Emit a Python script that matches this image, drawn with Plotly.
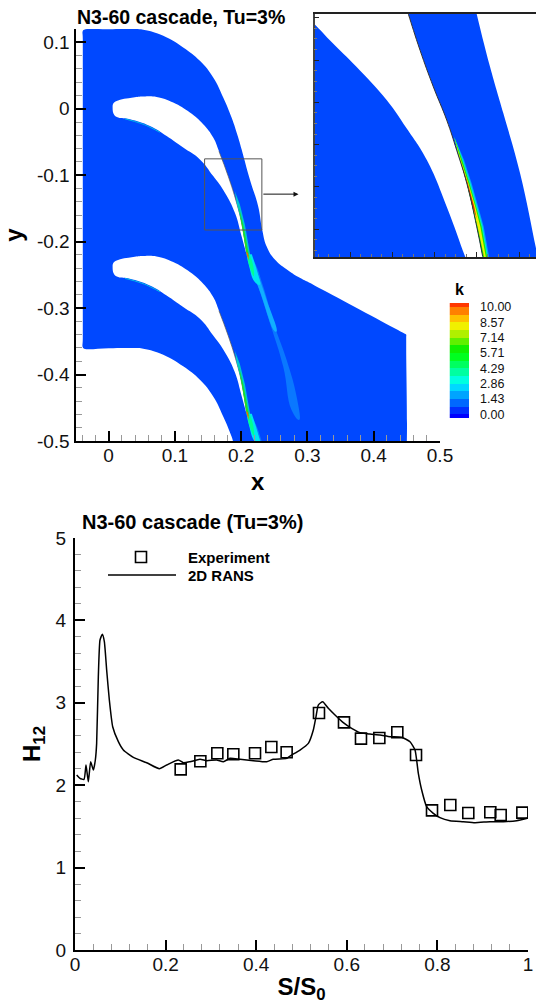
import plotly.graph_objects as go

# ---------- H12 chart data ----------
rans_s = [.0037,.011,.0199,.0243,.0294,.0346,.0405,.0449,.0478,.0515,.0552,.0603,.0648,.0699,.0758,.0832,.0957,.1067,.1288,.1582,.1862,.2023,.2281,.2392,.2539,.2759,.2907,.3127,.3275,.3422,.3642,.3937,.4231,.4378,.4672,.4746,.4967,.5151,.5261,.5320,.5371,.5467,.5592,.5740,.5923,.6107,.6291,.6512,.6733,.6954,.7211,.7395,.7506,.7579,.7653,.7763,.7910,.8057,.8278,.8572,.8830,.9161,.9455,.9750,.9985]
rans_h = [2.124,2.083,2.071,2.245,2.043,2.285,2.184,2.306,2.508,3.317,3.762,3.831,3.742,3.398,3.034,2.710,2.528,2.427,2.338,2.273,2.200,2.245,2.306,2.273,2.285,2.314,2.298,2.306,2.285,2.326,2.314,2.298,2.285,2.314,2.326,2.354,2.427,2.508,2.670,2.832,2.973,3.014,2.933,2.852,2.759,2.690,2.638,2.621,2.609,2.589,2.581,2.528,2.427,2.144,1.942,1.739,1.659,1.606,1.569,1.557,1.545,1.557,1.557,1.569,1.598]
exp_s = [.2333,.2767,.3142,.3495,.3974,.4334,.4672,.5386,.5938,.6313,.6718,.7115,.7528,.7881,.8285,.8682,.9168,.9397,.9875]
exp_h = [2.192,2.290,2.387,2.375,2.387,2.464,2.399,2.876,2.763,2.565,2.573,2.642,2.367,1.695,1.760,1.663,1.671,1.638,1.667]
legend_marker_s, legend_marker_h = [.1457], [4.77]
legend_line_s, legend_line_h = [.0728,.2230], [4.55,4.55]

# ---------- k contour geometry (x, y) ----------
pitch = 0.24
domain_x = [-.039,-.039,-.037,0,.0321,.0522,.0824,.1125,.1377,.1578,.1729,.1855,.1955,.2006,.2131,.2256,.2317,.2383,.2508,.271,.2885,.31,.43,.447,.449,.449,.449,.449,.447,.21,.1955,.1855,.1729,.1578,.1377,.1125,.0824,.0522,.0321,0,-.037,-.039,-.039,-.039]
domain_y = [.105,.117,.119,.1197,.1199,.1189,.1098,.0923,.0721,.0471,.0169,-.0133,-.0434,-.0611,-.1063,-.1466,-.1817,-.2069,-.2270,-.2435,-.2545,-.2655,-.3295,-.3387,-.34,-.343,-.36,-.52,-.53,-.53,-.5234,-.4933,-.4631,-.4329,-.4079,-.3877,-.3702,-.3611,-.3601,-.3603,-.361,-.359,-.345,.105]
blade_x = [.2078,.2085,.2006,.1905,.1754,.1578,.1377,.1125,.0875,.0623,.0321,.0145,.0085,.006,.0075,.0121,.0371,.0522,.0724,.0974,.1226,.1427,.1578,.1665,.1804,.1931,.2006,.2078]
blade_y = [-.2145,-.2195,-.1919,-.1566,-.1264,-.1014,-.0762,-.0585,-.0410,-.0259,-.0158,-.0133,-.0095,.0018,.0085,.0118,.0169,.0184,.0178,.0094,-.0057,-.0234,-.0434,-.0640,-.1014,-.1415,-.1716,-.2145]
wake_outer_x = [.2106,.2433,.2634,.2760,.2875,.2836,.2685,.2508,.2332,.2207,.2106]
wake_outer_y = [-.222,-.3225,-.3879,-.4533,-.4683,-.4332,-.3778,-.3276,-.2673,-.2320,-.2169]
wake_mid_x = [.2106,.2282,.2508,.2534,.2383,.2207,.2131]
wake_mid_y = [-.227,-.2748,-.3351,-.3351,-.2873,-.2371,-.2195]
wake_near_x = [.2081,.2120,.2200,.2282,.2250,.2160]
wake_near_y = [-.2195,-.2370,-.2600,-.2650,-.2480,-.2190]
wake_core_x = [.2085,.2125,.2190,.2180,.2125]
wake_core_y = [-.2200,-.2370,-.2520,-.2350,-.2195]
wedge_cyan_x = [.1905,.1980,.2056,.2131,.2150,.2085,.2006,.1931]
wedge_cyan_y = [-.1240,-.1440,-.1742,-.2169,-.2260,-.2195,-.1716,-.1415]
wedge_x = [.1955,.2030,.2111,.2115,.2081,.2021]
wedge_y = [-.1440,-.1742,-.2169,-.2230,-.2195,-.1816]
te_hot_x = [.2075,.2100,.2120,.2095]
te_hot_y = [-.2150,-.2170,-.2280,-.2230]
nose_strip_x = [.0246,.05,.064,.0774]
nose_strip_y = [-.0152,-.0225,-.0285,-.0355]

inset_lower_x = [.1400,.1430,.1521,.1647,.1774,.1868,.1963,.2057,.2144,.2172,.2180,.1400]
inset_lower_y = [-.0800,-.0828,-.0923,-.1049,-.1190,-.1324,-.1473,-.1693,-.1929,-.2000,-.2100,-.2100]
inset_upper_x = [.1862,.1876,.1931,.1994,.2057,.2104,.2152,.2199,.2227,.2245,.2260,.2520,.2500,.2479,.2404,.2325,.2262,.2199,.2189]
inset_upper_y = [-.0740,-.0784,-.0954,-.1127,-.1284,-.1426,-.1583,-.1788,-.1929,-.2000,-.2100,-.2100,-.1990,-.1890,-.1536,-.1253,-.1033,-.0784,-.0740]
edge_x = inset_upper_x[:9]
edge_y = inset_upper_y[:9]
lay_y = [-.1363,-.1473,-.1583,-.1693,-.1788,-.1950]
lay_surface = [.2092,.2120,.2152,.2178,.2199,.2232]
lay_blue = [.2092,.2139,.2175,.2206,.2232,.2261]
lay_cyan = [.2092,.2134,.2170,.2201,.2227,.2255]
lay_green = [.2092,.2130,.2165,.2196,.2222,.2251]
yellow_outer = [.2092,.2124,.2160,.2192,.2216,.2245]
yellow_inner = [.2092,.2120,.2153,.2180,.2203,.2238]
red_y = [-.1473,-.1583,-.1693,-.1750]
red_outer = [.2120,.2157,.2187,.2199]
red_inner = [.2120,.2153,.2179,.2199]

# ---------- colour key ----------
k_edges = [-.357,0,.714,1.429,2.143,2.857,3.571,4.286,5.0,5.714,6.429,7.143,7.857,8.571,9.286,10,10.357]
k_colors = ['#0000ff','#0030ff','#0068ff','#00a4ff','#00d8ff','#00ffe0','#00ffa0','#00ff60','#00ff20','#10f000','#60f000','#b0f000','#f0f000','#ffc000','#ff8000','#ff3800','#ff0000']
k_ticks = [0,1.429,2.857,4.286,5.714,7.143,8.571,10]
k_labels = ['0.00','1.43','2.86','4.29','5.71','7.14','8.57','10.00']
k_index = list(range(len(k_edges) - 1))

main_x_ticks, main_x_labels = [0,.1,.2,.3,.4,.5], ['0','0.1','0.2','0.3','0.4','0.5']
main_y_ticks = [.1,0,-.1,-.2,-.3,-.4,-.5]
main_y_labels = ['0.1','0','-0.1','-0.2','-0.3','-0.4','-0.5']
h_x_ticks, h_x_labels = [0,.2,.4,.6,.8,1], ['0','0.2','0.4','0.6','0.8','1']
h_y_ticks, h_y_labels = [0,1,2,3,4,5], ['0','1','2','3','4','5']

BLUE = '#0048ff'
FONT = 'Liberation Sans'
W, H = 536, 1004
dx = lambda a, b: [a / W, b / W]
dy = lambda top, bot: [1 - bot / H, 1 - top / H]

fig = go.Figure()

def area(xs, ys, color, ax='x', ay='y', shape='linear'):
    fig.add_trace(go.Scatter(x=list(xs), y=list(ys), xaxis=ax, yaxis=ay, mode='lines', fill='toself',
                             fillcolor=color, line=dict(width=0, color=color, shape=shape, smoothing=1.3, simplify=False),
                             hoverinfo='skip', showlegend=False))

def strip(xs, ys, color, width, ax='x', ay='y'):
    fig.add_trace(go.Scatter(x=list(xs), y=list(ys), xaxis=ax, yaxis=ay, mode='lines',
                             line=dict(width=width, color=color, shape='spline', smoothing=1.3, simplify=False), hoverinfo='skip', showlegend=False))

def shifted(ys, n):
    return [v - n * pitch for v in ys]

area(domain_x, domain_y, BLUE, shape='spline')
for n in (0, 1):
    area(blade_x, shifted(blade_y, n), '#ffffff', shape='spline')
    strip(nose_strip_x, shifted(nose_strip_y, n), '#00b8e8', 1)
    strip(blade_x[-5:], shifted(blade_y[-5:], n), '#555555', 0.7)
    area(wake_outer_x, shifted(wake_outer_y, n), '#0a78ff', shape='spline')
    area(wake_mid_x, shifted(wake_mid_y, n), '#10b0ff', shape='spline')
    area(wedge_cyan_x, shifted(wedge_cyan_y, n), '#00c8d0')
    area(wake_near_x, shifted(wake_near_y, n), '#00e4f0', shape='spline')
    area(wake_core_x, shifted(wake_core_y, n), '#00ff90', shape='spline')
    area(wedge_x, shifted(wedge_y, n), '#20e020')
    area(te_hot_x, shifted(te_hot_y, n), '#ff6000')

# inset
area(inset_lower_x, inset_lower_y, BLUE, 'x2', 'y2', shape='spline')
area(inset_upper_x, inset_upper_y, BLUE, 'x2', 'y2', shape='spline')
for lay, col in ((lay_blue, '#00a0ff'), (lay_cyan, '#00f0c0'), (lay_green, '#20e800')):
    area(lay + lay_surface[::-1], lay_y + lay_y[::-1], col, 'x2', 'y2')
area(yellow_outer + yellow_inner[::-1], lay_y + lay_y[::-1], '#f0f000', 'x2', 'y2')
area(red_outer + red_inner[::-1], red_y + red_y[::-1], '#e03000', 'x2', 'y2')
strip(edge_x, edge_y, '#333333', 1, 'x2', 'y2')

# colour key
fig.add_trace(go.Heatmap(x=[0, 1], y=k_edges, z=[[v] for v in k_index], xaxis='x3', yaxis='y3', showscale=False,
                         colorscale=[[i / (len(k_index) - 1), k_colors[i]] for i in k_index],
                         zmin=0, zmax=len(k_index) - 1, hoverinfo='skip'))

# H12 chart
square = dict(symbol='square-open', size=11, color='#000000', line=dict(width=1.6, color='#000000'))
fig.add_trace(go.Scatter(x=exp_s, y=exp_h, xaxis='x4', yaxis='y4', mode='markers', name='Experiment', marker=square, showlegend=False))
fig.add_trace(go.Scatter(x=rans_s, y=rans_h, xaxis='x4', yaxis='y4', mode='lines', name='2D RANS',
                         line=dict(color='#000000', width=1.5, shape='spline', smoothing=0.5), showlegend=False))
fig.add_trace(go.Scatter(x=legend_marker_s, y=legend_marker_h, xaxis='x4', yaxis='y4', mode='markers', marker=square, showlegend=False, hoverinfo='skip'))
fig.add_trace(go.Scatter(x=legend_line_s, y=legend_line_h, xaxis='x4', yaxis='y4', mode='lines',
                         line=dict(color='#000000', width=1.5), showlegend=False, hoverinfo='skip'))

def ax_style(minor, size=19, ticklen=10):
    return dict(showgrid=False, zeroline=False, showline=True, linecolor='#000000', linewidth=2,
                ticks='inside', ticklen=ticklen, tickwidth=2, tickcolor='#000000',
                tickfont=dict(family=FONT, size=size, color='#111111'),
                minor=dict(ticks='inside', ticklen=6, tickwidth=1, tickcolor='#999999', dtick=minor, showgrid=False))

title_font = dict(family=FONT, size=24, color='#000000', weight=700)
legend_font = dict(family=FONT, size=15, color='#000000', weight=700)

fig.update_layout(
    width=W, height=H, margin=dict(l=0, r=0, t=0, b=0, autoexpand=False), autosize=False,
    paper_bgcolor='#ffffff', plot_bgcolor='rgba(0,0,0,0)', showlegend=False,
    xaxis=dict(domain=dx(75.5, 440), range=[-.05, .5], anchor='y', tickmode='array', tickvals=main_x_ticks, ticktext=main_x_labels,
               title=dict(text='x', font=title_font, standoff=8), ticklabelstandoff=-4, **ax_style(.02)),
    yaxis=dict(domain=dy(29, 441), range=[-.5, .12], anchor='x', tickmode='array', tickvals=main_y_ticks, ticktext=main_y_labels,
               title=dict(text='y', font=title_font, standoff=9), ticklabelstandoff=0, **ax_style(.02)),
    xaxis2=dict(domain=dx(314.5, 536), range=[.1432, .2479], anchor='y2', showgrid=False, zeroline=False, mirror=True, showline=True,
                linecolor='#222222', linewidth=1.5, ticks='inside', ticklen=5, tickwidth=1.2, tickcolor='#222222', showticklabels=False,
                tick0=.16, dtick=.02, minor=dict(ticks='inside', ticklen=3, tickwidth=1, tickcolor='#777777', dtick=.005)),
    yaxis2=dict(domain=dy(13.5, 257), range=[-.1931, -.078], anchor='x2', showgrid=False, zeroline=False, showline=True,
                linecolor='#444444', linewidth=1.5, ticks='inside', ticklen=5, tickwidth=1.2, tickcolor='#222222', showticklabels=False,
                tick0=-.08, dtick=.02, minor=dict(ticks='inside', ticklen=3, tickwidth=1, tickcolor='#777777', dtick=.005)),
    xaxis3=dict(domain=dx(449.5, 469), range=[0, 1], anchor='y3', showgrid=False, zeroline=False, showticklabels=False, ticks='', showline=False),
    yaxis3=dict(domain=dy(303, 418), range=[-.357, 10.357], anchor='x3', side='right', showgrid=False, zeroline=False, showline=False,
                tickmode='array', tickvals=k_ticks, ticktext=k_labels, ticks='', ticklabelstandoff=10,
                tickfont=dict(family=FONT, size=12.5, color='#111111')),
    xaxis4=dict(domain=dx(75, 528), range=[0, 1], anchor='y4', tickmode='array', tickvals=h_x_ticks, ticktext=h_x_labels,
                title=dict(text='S/S<sub>0</sub>', font=title_font, standoff=8), ticklabelstandoff=-4, **ax_style(.04)),
    yaxis4=dict(domain=dy(538, 950), range=[0, 5], anchor='x4', tickmode='array', tickvals=h_y_ticks, ticktext=h_y_labels,
                title=dict(text='H<sub>12</sub>', font=title_font, standoff=8), ticklabelstandoff=3, **ax_style(.2)),
    shapes=[dict(type='rect', xref='x', yref='y', x0=.1448, x1=.2312, y0=-.1825, y1=-.0754, line=dict(color='#555555', width=1))],
    annotations=[
        dict(text='N3-60 cascade, Tu=3%', xref='paper', yref='paper', x=75 / W, y=1 - 17 / H, xanchor='left', yanchor='middle', showarrow=False,
             font=dict(family=FONT, size=19.5, color='#000000', weight=700)),
        dict(text='N3-60 cascade (Tu=3%)', xref='paper', yref='paper', x=80 / W, y=1 - 522 / H, xanchor='left', yanchor='middle', showarrow=False,
             font=dict(family=FONT, size=20, color='#000000', weight=700)),
        dict(text='k', xref='paper', yref='paper', x=459 / W, y=1 - 290 / H, xanchor='center', yanchor='middle', showarrow=False,
             font=dict(family=FONT, size=16, color='#000000', weight=700)),
        dict(text='Experiment', xref='paper', yref='paper', x=186 / W, y=1 - 557 / H, xanchor='left', yanchor='middle', showarrow=False, font=legend_font),
        dict(text='2D RANS', xref='paper', yref='paper', x=186 / W, y=1 - 575 / H, xanchor='left', yanchor='middle', showarrow=False, font=legend_font),
        dict(text='', xref='x', yref='y', axref='x', ayref='y', x=.2865, y=-.1285, ax=.2312, ay=-.1285, showarrow=True,
             arrowhead=2, arrowsize=1, arrowwidth=1, arrowcolor='#111111'),
    ],
)
fig.write_html('out.html', config={'displayModeBar': False}, post_script="document.body.style.margin='0';")
